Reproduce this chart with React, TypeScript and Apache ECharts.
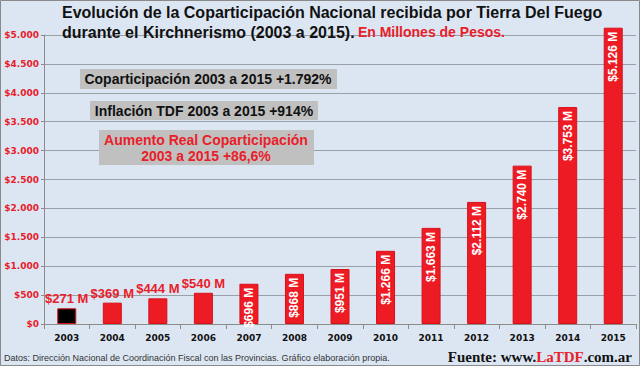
import React, { useEffect, useRef } from "react";
import * as echarts from "echarts";

const years = ["2003","2004","2005","2006","2007","2008","2009","2010","2011","2012","2013","2014","2015"];
const values = [271, 369, 444, 540, 696, 868, 951, 1266, 1663, 2112, 2740, 3753, 5126];
const yTicks = [0, 500, 1000, 1500, 2000, 2500, 3000, 3500, 4000, 4500, 5000];
const notes = [
  "Coparticipación 2003 a 2015 +1.792%",
  "Inflación TDF 2003 a 2015 +914%",
  "Aumento Real Coparticipación\n2003 a 2015 +86,6%",
];

const fmt = (v: number) => v.toString().replace(/\B(?=(\d{3})+(?!\d))/g, ".");
const RED = "#ed1c24";

export default function App() {
  const ref = useRef<HTMLDivElement>(null);
  useEffect(() => {
    const chart = echarts.init(ref.current!, null, { renderer: "svg" });
    const data = values.map((v, i) => {
      const outside = i < 4;
      return {
        value: v,
        itemStyle: { color: i === 0 ? "#000000" : RED, borderColor: "#d8101a", borderWidth: 1 },
        label: outside
          ? {
              show: true,
              position: "top",
              distance: 3,
              formatter: "$" + fmt(v) + " M",
              color: "#e8202a",
              fontWeight: "bold",
              fontSize: 13,
              fontFamily: "Liberation Sans, Arial",
            }
          : {
              show: true,
              position: "insideTop",
              rotate: 90,
              align: "right",
              verticalAlign: "middle",
              distance: 4,
              formatter: "$" + fmt(v) + " M",
              color: "#ffffff",
              fontWeight: "bold",
              fontSize: 12,
              fontFamily: "Liberation Sans, Arial",
            },
      };
    });
    chart.setOption({
      animation: false,
      backgroundColor: "#dce6f2",
      grid: { left: 44, right: 4, top: 35, bottom: 42, containLabel: false },
      xAxis: {
        type: "category",
        data: years,
        axisLine: { lineStyle: { color: "#8c8c8c" } },
        axisTick: { show: true, alignWithLabel: false, lineStyle: { color: "#8c8c8c" } },
        axisLabel: {
          color: "#111",
          fontWeight: "bold",
          fontSize: 9,
          fontFamily: "DejaVu Sans",
          margin: 9,
        },
      },
      yAxis: {
        type: "value",
        min: yTicks[0],
        max: yTicks[yTicks.length - 1],
        interval: 500,
        axisLine: { show: true, lineStyle: { color: "#8c8c8c" } },
        axisTick: { show: true, length: 3, lineStyle: { color: "#8c8c8c" } },
        splitLine: { lineStyle: { color: "#9aa0a8", width: 1 } },
        axisLabel: {
          formatter: (v: number) => "$" + fmt(v),
          color: "#e8202a",
          fontWeight: "bold",
          fontSize: 9,
          fontFamily: "DejaVu Sans",
          margin: 5,
        },
      },
      series: [
        {
          type: "bar",
          data,
          barWidth: 19,
          clip: false,
        },
      ],
      graphic: [
        {
          type: "rect",
          shape: { x: 0.5, y: 0.5, width: 639, height: 365 },
          style: { fill: "none", stroke: "#8a8a8a", lineWidth: 1 },
          z: 100,
        },
        {
          type: "text",
          x: 62,
          y: 2,
          style: {
            text: "{a|Evolución de la Coparticipación Nacional recibida por Tierra Del Fuego}\n{a|durante el Kirchnerismo (2003 a 2015).} {b|En Millones de Pesos.}",
            rich: {
              a: { fontSize: 16, fontWeight: "bold", fill: "#111", fontFamily: "Liberation Sans, Arial", lineHeight: 20 },
              b: { fontSize: 14, fontWeight: "bold", fill: "#e8202a", fontFamily: "Liberation Sans, Arial", lineHeight: 20 },
            },
          },
          z: 50,
        },
        {
          type: "rect",
          shape: { x: 80, y: 69, width: 257, height: 20 },
          style: { fill: "#c0c0c0" },
          z: 40,
        },
        {
          type: "text",
          x: 208,
          y: 79,
          style: {
            text: notes[0],
            fill: "#111",
            fontSize: 14,
            fontWeight: "bold",
            fontFamily: "Liberation Sans, Arial",
            align: "center",
            verticalAlign: "middle",
          },
          z: 41,
        },
        {
          type: "rect",
          shape: { x: 90, y: 101, width: 228, height: 19 },
          style: { fill: "#c0c0c0" },
          z: 40,
        },
        {
          type: "text",
          x: 204,
          y: 110.5,
          style: {
            text: notes[1],
            fill: "#111",
            fontSize: 14,
            fontWeight: "bold",
            fontFamily: "Liberation Sans, Arial",
            align: "center",
            verticalAlign: "middle",
          },
          z: 41,
        },
        {
          type: "rect",
          shape: { x: 99, y: 130, width: 215, height: 35 },
          style: { fill: "#c0c0c0" },
          z: 40,
        },
        {
          type: "text",
          x: 206,
          y: 148,
          style: {
            text: notes[2],
            fill: "#e8202a",
            fontSize: 14,
            fontWeight: "bold",
            fontFamily: "Liberation Sans, Arial",
            align: "center",
            verticalAlign: "middle",
            lineHeight: 16,
          },
          z: 41,
        },
        {
          type: "text",
          x: 4,
          y: 358,
          style: {
            text: "Datos: Dirección Nacional de Coordinación Fiscal con las Provincias. Gráfico elaboración propia.",
            fill: "#333",
            fontSize: 9,
            fontFamily: "Liberation Sans, Arial",
            verticalAlign: "middle",
          },
          z: 41,
        },
        {
          type: "text",
          x: 632,
          y: 357,
          style: {
            text: "{k|Fuente: www.}{r|LaTDF}{k|.com.ar}",
            align: "right",
            verticalAlign: "middle",
            rich: {
              k: { fontSize: 15, fontWeight: "bold", fill: "#111", fontFamily: "Liberation Serif, serif" },
              r: { fontSize: 15, fontWeight: "bold", fill: "#e8202a", fontFamily: "Liberation Serif, serif" },
            },
          },
          z: 41,
        },
      ],
    });
    return () => chart.dispose();
  }, []);
  return <div ref={ref} style={{ position: "absolute", left: 0, top: 0, width: 640, height: 366 }} />;
}
